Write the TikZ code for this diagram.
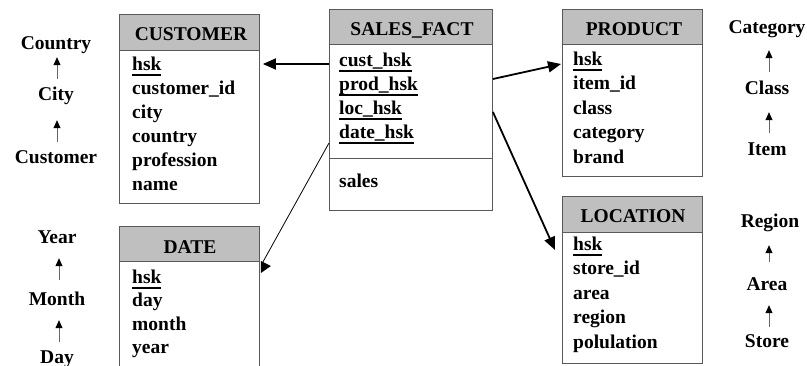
\documentclass[tikz,border=0pt]{standalone}
\usepackage{fontspec}
\setmainfont{Liberation Serif}
\usetikzlibrary{arrows.meta,calc}
\newcommand\keyu[1]{\setbox0\hbox{#1}\rlap{\rule[-5.5pt]{\wd0}{1.8pt}}\box0}
\begin{document}
\begin{tikzpicture}[x=1pt,y=-1pt,
  font=\fontsize{19.5}{24}\selectfont\bfseries,
  tbl/.style={draw=black!65, line width=0.9pt, fill=white, anchor=north west, inner sep=0, minimum width=140pt},
  hdr/.style={draw=black!65, line width=0.9pt, fill=black!25, anchor=north west, inner sep=0, minimum width=140pt},
  row/.style={anchor=base west, inner sep=0},
  ttl/.style={anchor=base, inner sep=0},
  lvl/.style={anchor=base, inner sep=0, text height=13pt, text depth=4pt},
  fk/.style={line width=1.8pt, -{Triangle[length=13pt,width=11pt]}},
  fkthin/.style={line width=0.8pt},
  harr/.style={draw=black!60, line width=0.8pt, -{Triangle[length=8pt,width=7pt,color=black]}}
]
\useasboundingbox (0,0) rectangle (807,365);
\clip (0,0) rectangle (807,365);

% ---------- CUSTOMER ----------
\node[tbl, minimum height=189pt] (cust) at (119,14) {};
\node[hdr, minimum height=36pt] (custH) at (119,14) {};
\node[ttl] (custT) at (191,40) {CUSTOMER};
\node[row] (c1) at (132,70) {\keyu{hsk}};
\node[row] (c2) at (132,94) {customer\_id};
\node[row] (c3) at (132,118) {city};
\node[row] (c4) at (132,142) {country};
\node[row] (c5) at (132,166) {profession};
\node[row] (c6) at (132,190) {name};

% ---------- SALES_FACT ----------
\node[tbl, minimum width=163pt, minimum height=201pt] (sf) at (329,9) {};
\node[hdr, minimum width=163pt, minimum height=35pt] (sfH) at (329,9) {};
\draw[draw=black!65, line width=0.9pt] ($(sf.north west)+(0,149)$) -- ($(sf.north east)+(0,149)$);
\node[ttl] (sfT) at (412,35) {SALES\_FACT};
\node[row] (s1) at (339,66) {\keyu{cust\_hsk}};
\node[row] (s2) at (339,90) {\keyu{prod\_hsk}};
\node[row] (s3) at (339,114) {\keyu{loc\_hsk}};
\node[row] (s4) at (339,138) {\keyu{date\_hsk}};
\node[row] (s5) at (339,187) {sales};

% ---------- PRODUCT ----------
\node[tbl, minimum height=167pt] (prod) at (562,9) {};
\node[hdr, minimum height=35pt] (prodH) at (562,9) {};
\node[ttl] (prodT) at (634,35) {PRODUCT};
\node[row] (p1) at (573,65) {\keyu{hsk}};
\node[row] (p2) at (573,89.5) {item\_id};
\node[row] (p3) at (573,114) {class};
\node[row] (p4) at (573,138.5) {category};
\node[row] (p5) at (573,163) {brand};

% ---------- LOCATION ----------
\node[tbl, minimum height=167pt] (loc) at (562,196) {};
\node[hdr, minimum height=36pt] (locH) at (562,196) {};
\node[ttl] (locT) at (633,222) {LOCATION};
\node[row] (l1) at (573,250) {\keyu{hsk}};
\node[row] (l2) at (573,274.5) {store\_id};
\node[row] (l3) at (573,299) {area};
\node[row] (l4) at (573,323.5) {region};
\node[row] (l5) at (573,348) {polulation};

% ---------- DATE ----------
\node[tbl, minimum height=160pt] (date) at (119,226) {};
\node[hdr, minimum height=35pt] (dateH) at (119,226) {};
\node[ttl] (dateT) at (190,253) {DATE};
\node[row] (d1) at (132,283) {\keyu{hsk}};
\node[row] (d2) at (132,306.5) {day};
\node[row] (d3) at (132,330) {month};
\node[row] (d4) at (132,353.5) {year};

% ---------- foreign key arrows ----------
\draw[fk] ($(sf.north west)+(0,55)$) -- ($(cust.north east)+(3,50)$);
\draw[fk] ($(sf.north east)+(0,70)$) -- ($(prod.north west)+(-1,55)$);
\draw[fk] ($(sf.north east)+(0,103)$) -- ($(loc.north west)+(-7,54)$);
\draw[fkthin] ($(sf.north west)+(0,134)$) -- coordinate[pos=1] (dtip) ($(date.north east)+(3,36)$);
\fill ($(date.north east)+(1,35)$) -- ($(date.north east)+(11,40)$) -- ($(date.north east)+(1,47)$) -- cycle;

% ---------- hierarchies ----------
\node[lvl] (Country) at (56,49) {Country};
\node[lvl] (City) at (56,100) {City};
\node[lvl] (Customer) at (56,163) {Customer};
\draw[harr] ($(City.north)+(1,-8)$) -- ($(Country.south)+(1,4)$);
\draw[harr] ($(Customer.north)+(1,-8)$) -- ($(City.south)+(1,16)$);

\node[lvl] (Year) at (57,243) {Year};
\node[lvl] (Month) at (57,305) {Month};
\node[lvl] (Day) at (57,363) {Day};
\draw[harr] ($(Month.north)+(2,-12)$) -- ($(Year.south)+(2,11)$);
\draw[harr] ($(Day.north)+(2,-8)$) -- ($(Month.south)+(2,11)$);

\node[lvl] (Category) at (767,33) {Category};
\node[lvl] (Class) at (767,94) {Class};
\node[lvl] (Item) at (767,155) {Item};
\draw[harr] ($(Class.north)+(2,-9)$) -- ($(Category.south)+(2,13)$);
\draw[harr] ($(Item.north)+(2,-9)$) -- ($(Class.south)+(2,14)$);

\node[lvl] (Region) at (770,227) {Region};
\node[lvl] (Area) at (767,290) {Area};
\node[lvl] (Store) at (767,347) {Store};
\draw[harr] ($(Area.north)+(2,-15)$) -- ($(Region.south)+(-1,14)$);
\draw[harr] ($(Store.north)+(2,-7)$) -- ($(Area.south)+(2,11)$);
\end{tikzpicture}
\end{document}
